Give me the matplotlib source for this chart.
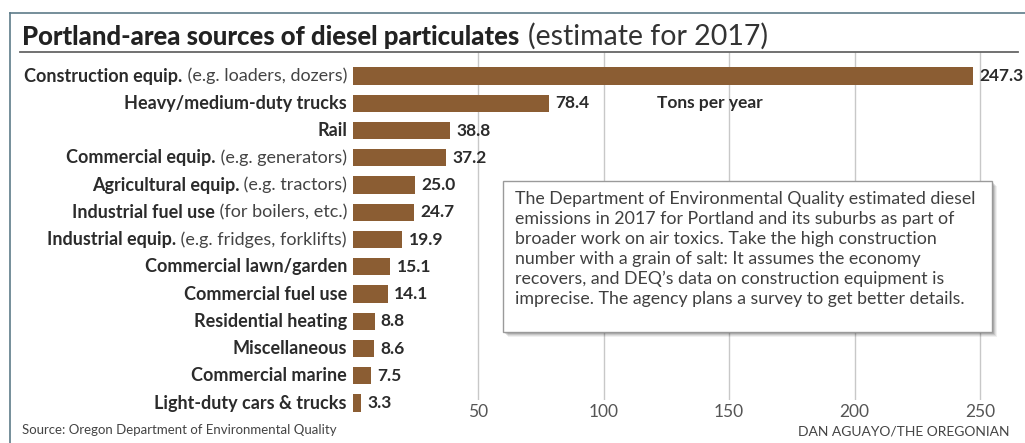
import matplotlib.pyplot as plt
from matplotlib.patches import Rectangle
from matplotlib.lines import Line2D
import matplotlib.transforms as mtrans

# Data
bold_labels = ["Construction equip.", "Heavy/medium-duty trucks", "Rail", "Commercial equip.",
               "Agricultural equip.", "Industrial fuel use", "Industrial equip.",
               "Commercial lawn/garden", "Commercial fuel use", "Residential heating",
               "Miscellaneous", "Commercial marine", "Light-duty cars & trucks"]
extra_labels = [" (e.g. loaders, dozers)", "", "", " (e.g. generators)", " (e.g. tractors)",
                " (for boilers, etc.)", " (e.g. fridges, forklifts)", "", "", "", "", "", ""]
tons = [247.3, 78.4, 38.8, 37.2, 25.0, 24.7, 19.9, 15.1, 14.1, 8.8, 8.6, 7.5, 3.3]
ticks = [50, 100, 150, 200, 250]

note = ("The Department of Environmental Quality estimated diesel\n"
        "emissions in 2017 for Portland and its suburbs as part of\n"
        "broader work on air toxics. Take the high construction\n"
        "number with a grain of salt: It assumes the economy\n"
        "recovers, and DEQ\u2019s data on construction equipment is\n"
        "imprecise. The agency plans a survey to get better details.")

W, H = 1025, 443
plt.rcParams['font.family'] = ['Lato', 'DejaVu Sans']
bar_col = "#8b5d33"
txt_col = "#2b2b2b"

fig = plt.figure(figsize=(W / 100, H / 100), dpi=100)

def fx(x):
    return x / W

def fy(y):
    return 1 - y / H

# axes: x=0 at 352.5px, 2.51 px per unit; top at 52px, bottom at 400px
left, right = 352.5, 352.5 + 265 * 2.51
top, bottom = 52, 400
ax = fig.add_axes([fx(left), fy(bottom), (right - left) / W, (bottom - top) / H])
ax.set_xlim(0, 265)
ax.set_ylim((bottom - 76) / 27.25, -(76 - top) / 27.25)

ypos = list(range(len(tons)))
ax.barh(ypos, tons, height=0.64, color=bar_col, clip_on=False, zorder=3)

for x in ticks:
    ax.axvline(x, color="#c8c8c8", lw=1, zorder=1)
ax.set_xticks(ticks)
ax.set_xticklabels([str(t) for t in ticks], fontsize=12.5, color="#555555")
ax.tick_params(axis='x', length=0, pad=3)
ax.set_yticks([])
for s in ax.spines.values():
    s.set_visible(False)
ax.patch.set_alpha(0)

for i, v in enumerate(tons):
    ax.annotate(f"{v:.1f}", (v, i), xytext=(4.5, 0), textcoords='offset points',
                va='center', ha='left', fontsize=12.5, fontweight='bold', color=txt_col,
                annotation_clip=False)

fig.text(fx(657), fy(103), "Tons per year", fontsize=12.5, fontweight='bold', color=txt_col,
         va='center', ha='left')

# category labels: bold part + regular part, right aligned at 347px
fig.canvas.draw()
renderer = fig.canvas.get_renderer()
trans = mtrans.blended_transform_factory(fig.transFigure, ax.transData)
for i in ypos:
    xr = fx(347)
    if extra_labels[i]:
        t = fig.text(xr, i, extra_labels[i], transform=trans, ha='right', va='center',
                     fontsize=13, color="#444444")
        bb = t.get_window_extent(renderer)
        xr = bb.x0 / fig.bbox.width
    fig.text(xr, i, bold_labels[i], transform=trans, ha='right', va='center',
             fontsize=13, fontweight='bold', color=txt_col)

# title
t1 = fig.text(fx(22), fy(45), "Portland-area sources of diesel particulates", fontsize=18.5,
              fontweight='black', color="#222222", va='baseline', ha='left')
bb = t1.get_window_extent(renderer)
fig.text(bb.x1 / W + fx(9), fy(45), "(estimate for 2017)", fontsize=20.5, color="#333333",
         va='baseline', ha='left')

# frame and title rule
fig.add_artist(Line2D([fx(10), 1], [fy(13), fy(13)], color="#5d7b89", lw=1.2))
fig.add_artist(Line2D([fx(10), fx(10)], [fy(13), 0], color="#5d7b89", lw=1.2))
fig.add_artist(Line2D([fx(20), fx(1018)], [fy(52), fy(52)], color="#666666", lw=1.3))

# note box with shadow
bx0, by0, bx1, by1 = 503, 181, 992, 332
for k, a in [(5, 0.06), (4, 0.08), (3, 0.10), (2, 0.12)]:
    fig.add_artist(Rectangle((fx(bx0 + k), fy(by1 + k)), (bx1 - bx0) / W, (by1 - by0) / H,
                             facecolor="black", alpha=a, edgecolor="none", zorder=4))
fig.add_artist(Rectangle((fx(bx0), fy(by1)), (bx1 - bx0) / W, (by1 - by0) / H,
                         facecolor="white", edgecolor="#9a9a9a", lw=1, zorder=5))
fig.text(fx(515), fy(191), note, fontsize=12.8, color="#404040", va='top', ha='left',
         linespacing=1.3, zorder=6)

# source and credit
fig.text(fx(22), fy(430), "Source: Oregon Department of Environmental Quality", fontsize=9.5,
         color="#444444", va='center', ha='left')
fig.text(fx(1010), fy(432), "DAN AGUAYO/THE OREGONIAN", fontsize=10, color="#444444",
         va='center', ha='right')

fig.savefig("out.png", dpi=100)
